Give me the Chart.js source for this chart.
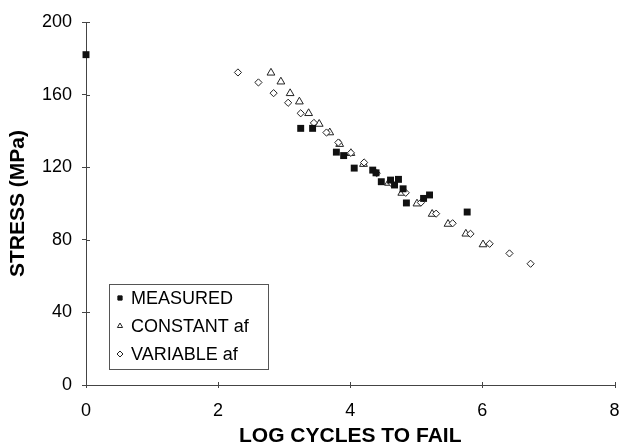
<!DOCTYPE html>
<html>
<head>
<meta charset="utf-8">
<script src="https://cdn.jsdelivr.net/npm/chart.js@4/dist/chart.umd.min.js"></script>
<style>
  html, body { margin: 0; padding: 0; background: #fff; overflow: hidden; }
  #wrap { width: 620px; height: 446px; position: relative; }
</style>
</head>
<body>
<div id="wrap"><canvas id="snChart"></canvas></div>
<script>
// data (x = log cycles to fail, y = stress MPa)
var measuredX = [0, 3.25, 3.43, 3.79, 3.90, 4.06, 4.34, 4.39, 4.47, 4.61, 4.67, 4.73, 4.80, 4.85, 5.11, 5.20, 5.77];
var measuredY = [182, 141.4, 141.4, 128.3, 126.4, 119.5, 118.4, 116.9, 112.0, 112.9, 110.2, 113.3, 108.1, 100.3, 102.8, 104.7, 95.3];

var constantX = [2.80, 2.95, 3.09, 3.23, 3.37, 3.53, 3.69, 3.84, 4.01, 4.20, 4.58, 4.78, 5.01, 5.24, 5.48, 5.75, 6.01];
var constantY = [172.0, 167.1, 160.7, 156.1, 149.7, 143.8, 139.1, 132.7, 127.7, 121.7, 111.3, 105.8, 99.9, 94.2, 88.7, 83.3, 77.4];

var variableX = [2.30, 2.61, 2.84, 3.06, 3.25, 3.45, 3.64, 3.82, 4.01, 4.21, 4.40, 4.63, 4.84, 5.07, 5.30, 5.55, 5.82, 6.11, 6.41, 6.73];
var variableY = [172.2, 166.7, 160.8, 155.5, 149.7, 144.4, 139.1, 133.6, 127.9, 122.6, 116.7, 110.9, 105.9, 100.5, 94.4, 89.1, 83.3, 77.8, 72.5, 66.8];

var xTicks = [0, 2, 4, 6, 8];
var yTicks = [0, 40, 80, 120, 160, 200];

var seriesNames = ['MEASURED', 'CONSTANT af', 'VARIABLE af'];

function toPoints(xs, ys) {
  return xs.map(function (x, i) { return { x: x, y: ys[i] }; });
}

var FONT = "'Liberation Sans', Arial, sans-serif";
var AXIS_COLOR = '#444';

// tick marks that cross the axis lines
var crossTicks = {
  id: 'crossTicks',
  afterDraw: function (chart) {
    var ctx = chart.ctx;
    var xs = chart.scales.x, ys = chart.scales.y;
    var area = chart.chartArea;
    ctx.save();
    ctx.strokeStyle = AXIS_COLOR;
    ctx.lineWidth = 1;
    ctx.beginPath();
    xTicks.forEach(function (v) {
      var px = Math.round(xs.getPixelForValue(v)) + 0.5;
      ctx.moveTo(px, area.bottom + 3);
      ctx.lineTo(px, area.bottom - 3);
    });
    yTicks.forEach(function (v) {
      var py = Math.round(ys.getPixelForValue(v)) + 0.5;
      ctx.moveTo(area.left, py);
      ctx.lineTo(area.left + 4, py);
    });
    ctx.stroke();
    ctx.restore();
  }
};

// legend box drawn inside the plot, lower left
var boxLegend = {
  id: 'boxLegend',
  afterDraw: function (chart) {
    var ctx = chart.ctx;
    var area = chart.chartArea;
    var left = area.left + 23;
    var bottom = area.bottom - 16;
    var w = 159, h = 85;
    var top = bottom - h;
    ctx.save();
    ctx.strokeStyle = '#555';
    ctx.lineWidth = 1;
    ctx.strokeRect(left + 0.5, top + 0.5, w, h);
    ctx.font = '18px ' + FONT;
    ctx.textBaseline = 'middle';
    [0, 1, 2].forEach(function (i, row) {
      var ds = chart.data.datasets[i];
      var cy = top + 14 + row * 28;
      ctx.fillStyle = ds.backgroundColor;
      ctx.strokeStyle = ds.borderColor;
      ctx.lineWidth = 1;
      Chart.helpers.drawPoint(ctx, {
        pointStyle: ds.pointStyle,
        radius: 3,
        borderWidth: 1
      }, left + 11, cy);
      ctx.fillStyle = '#000';
      ctx.fillText(ds.label, left + 22, cy + 1);
    });
    ctx.restore();
  }
};

var chart = new Chart(document.getElementById('snChart'), {
  type: 'scatter',
  data: {
    datasets: [
      {
        label: seriesNames[0],
        data: toPoints(measuredX, measuredY),
        pointStyle: 'rect',
        pointRadius: 4.9,
        backgroundColor: '#111',
        borderColor: '#111',
        borderWidth: 0,
        clip: false,
        order: 0
      },
      {
        label: seriesNames[1],
        data: toPoints(constantX, constantY),
        pointStyle: 'triangle',
        pointRadius: 4.5,
        backgroundColor: '#fff',
        borderColor: '#222',
        borderWidth: 1,
        clip: false,
        order: 2
      },
      {
        label: seriesNames[2],
        data: toPoints(variableX, variableY),
        pointStyle: 'rectRot',
        pointRadius: 3.6,
        backgroundColor: '#fff',
        borderColor: '#222',
        borderWidth: 1,
        clip: false,
        order: 1
      }
    ]
  },
  options: {
    responsive: true,
    maintainAspectRatio: false,
    animation: false,
    layout: { padding: { top: 22, left: 6, right: 0, bottom: 0 } },
    plugins: {
      legend: { display: false },
      tooltip: { enabled: false }
    },
    scales: {
      x: {
        type: 'linear',
        min: xTicks[0],
        max: xTicks[xTicks.length - 1],
        afterBuildTicks: function (axis) {
          axis.ticks = xTicks.map(function (v) { return { value: v }; });
        },
        afterFit: function (axis) { axis.height = 61; },
        // long invisible tick marks keep the labels clear of the axis
        grid: { drawOnChartArea: false, drawTicks: true, tickLength: 15, tickColor: 'rgba(0,0,0,0)' },
        border: { display: true, color: AXIS_COLOR, width: 1 },
        ticks: { color: '#000', font: { family: FONT, size: 18 }, padding: 0, maxRotation: 0 },
        title: {
          display: true,
          text: 'LOG CYCLES TO FAIL',
          color: '#000',
          font: { family: FONT, size: 21, weight: 'bold' },
          padding: { top: 0, bottom: -3 }
        }
      },
      y: {
        type: 'linear',
        min: yTicks[0],
        max: yTicks[yTicks.length - 1],
        afterBuildTicks: function (axis) {
          axis.ticks = yTicks.map(function (v) { return { value: v }; });
        },
        afterFit: function (axis) { axis.width = 80; },
        grid: { drawOnChartArea: false, drawTicks: true, tickLength: 4, color: AXIS_COLOR },
        border: { display: true, color: AXIS_COLOR, width: 1 },
        ticks: { color: '#000', font: { family: FONT, size: 18 }, padding: 10 },
        title: {
          display: true,
          text: 'STRESS (MPa)',
          color: '#000',
          font: { family: FONT, size: 21, weight: 'bold' },
          padding: { top: 0, bottom: 8 }
        }
      }
    }
  },
  plugins: [crossTicks, boxLegend]
});
</script>
</body>
</html>
